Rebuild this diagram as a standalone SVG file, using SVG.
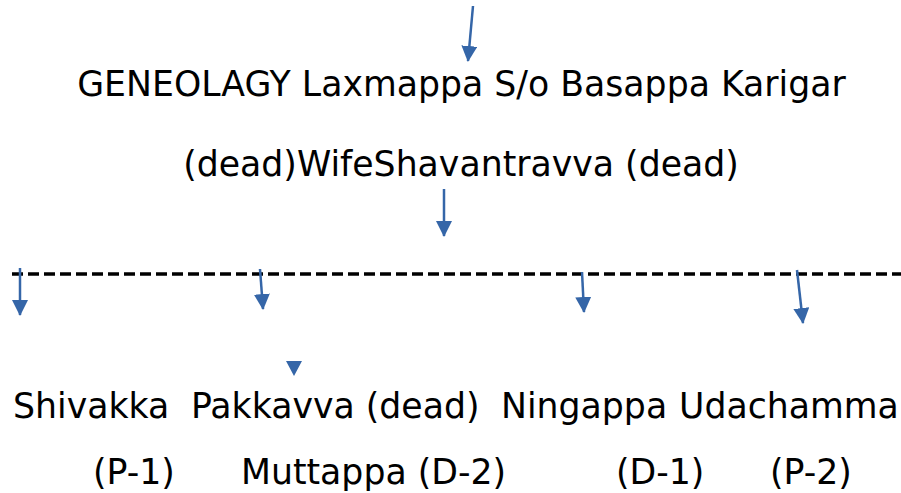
<svg xmlns="http://www.w3.org/2000/svg" width="901" height="493" viewBox="0 0 901 493">
<style>
text{font-family:"DejaVu Sans",sans-serif;font-size:34.7px;fill:#000}
.c{stroke:#3566a8;stroke-width:2.5;fill:none}
.h{fill:#3566a8}
</style>
<defs>
<marker id="ah" viewBox="0 0 16 16" refX="15" refY="8" markerWidth="16" markerHeight="16" markerUnits="userSpaceOnUse" orient="auto">
<path d="M0,0 L16,8 L0,16 Z" class="h"/>
</marker>
</defs>
<rect width="901" height="493" fill="#fff"/>
<g id="n-title"><text x="461.5" y="96" text-anchor="middle">GENEOLAGY Laxmappa S/o Basappa Karigar</text></g>
<g id="n-wife"><text x="461" y="176" text-anchor="middle">(dead)WifeShavantravva (dead)</text></g>
<g id="n-shivakka"><text x="13" y="418">Shivakka</text><text x="93" y="484">(P-1)</text></g>
<g id="n-pakkavva"><text x="191" y="418">Pakkavva (dead)</text></g>
<g id="n-muttappa"><text x="241" y="484">Muttappa (D-2)</text></g>
<g id="n-ningappa"><text x="501" y="418">Ningappa</text><text x="616" y="484">(D-1)</text></g>
<g id="n-udachamma"><text x="679" y="418">Udachamma</text><text x="770" y="484">(P-2)</text></g>
<g id="connectors">
<line x1="12" y1="274" x2="901" y2="274" stroke="#000" stroke-width="3.5" stroke-dasharray="11 5"/>
<line class="c" x1="473" y1="6" x2="468" y2="61" marker-end="url(#ah)"/>
<line class="c" x1="444" y1="189" x2="444" y2="236" marker-end="url(#ah)"/>
<line class="c" x1="20" y1="268" x2="20" y2="315" marker-end="url(#ah)"/>
<line class="c" x1="260" y1="269" x2="263" y2="309" marker-end="url(#ah)"/>
<line class="c" x1="582" y1="272" x2="584" y2="312" marker-end="url(#ah)"/>
<line class="c" x1="797" y1="270" x2="803" y2="323" marker-end="url(#ah)"/>
<path class="h" d="M286,361 L302,361 L294,376 Z"/>
</g>
</svg>
